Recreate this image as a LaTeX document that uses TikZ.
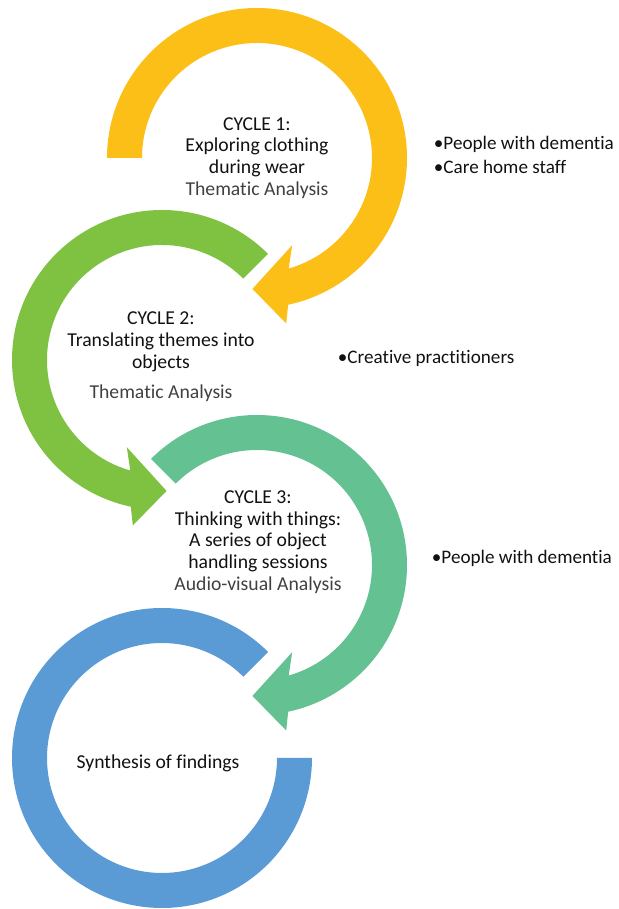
\documentclass[tikz,border=0pt]{standalone}
\usepackage{fontspec}
\setmainfont{Carlito}[Ligatures=NoCommon]
\definecolor{cycleyellow}{HTML}{FCBF17}
\definecolor{cyclegreen}{HTML}{7FC241}
\definecolor{cycleteal}{HTML}{63C192}
\definecolor{cycleblue}{HTML}{5B9BD5}
\definecolor{inktext}{HTML}{111111}
\tikzset{
  cycletext/.style={align=center, text=inktext, font=\fontsize{14}{15.5}\selectfont},
  grouptext/.style={anchor=west, align=left, text=inktext, font=\fontsize{13.6}{17}\selectfont},
}
\begin{document}
\begin{tikzpicture}[x=0.025cm, y=0.025cm]
      \useasboundingbox (0, 0) rectangle (619, 909);
      \coordinate (Y) at (257, 751);
      \coordinate (G) at (162, 549);
      \coordinate (T) at (257, 344);
      \coordinate (B) at (162, 151);
      % Draw the four cycles
      \begin{scope}[shift={(Y)}]
        \fill[cycleyellow] (180:150) arc (180:-78:150) -- (-80:168) -- (-92:131)
          -- (-68:94) -- (-74:115) arc (-74:180:115) -- cycle;
      \end{scope}
      \begin{scope}[shift={(G)}]
        \fill[cyclegreen] (45:150) arc (45:258:150) -- (260:168) -- (272:131)
          -- (248:94) -- (254:115) arc (254:45:115) -- cycle;
      \end{scope}
      \begin{scope}[shift={(T)}]
        \fill[cycleteal] (135:150) arc (135:-78:150) -- (-80:168) -- (-92:131)
          -- (-68:94) -- (-74:115) arc (-74:135:115) -- cycle;
      \end{scope}
      \begin{scope}[shift={(B)}]
        \fill[cycleblue] (45:150) arc (45:360:150) -- (0:115) arc (360:45:115) -- cycle;
      \end{scope}
      % Texts inside the cycles
      \node[cycletext] (cycle1) at (257, 751) {CYCLE 1:\\Exploring clothing\\during wear\\{\color{black!75}Thematic Analysis}};
      \node[cycletext] (cycle2) at (161, 552) {CYCLE 2:\\Translating themes into\\objects\\[6pt]{\color{black!75}Thematic Analysis}};
      \node[cycletext] (cycle3) at (258, 367) {CYCLE 3:\\Thinking with things:\\A series of object\\handling sessions\\{\color{black!75}Audio-visual Analysis}};
      \node[cycletext] (synthesis) at (158, 146) {Synthesis of findings};
      % Who took part
      \node[grouptext] (group1) at (429, 754) {•People with dementia\\•Care home staff};
      \node[grouptext] (group2) at (333, 551) {•Creative practitioners};
      \node[grouptext] (group3) at (427, 351) {•People with dementia};
    \end{tikzpicture}
\end{document}
